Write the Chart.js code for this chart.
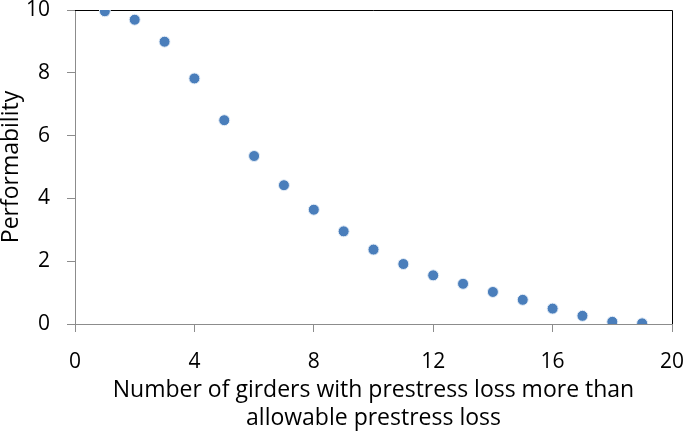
<!DOCTYPE html>
<html>
<head>
<meta charset="utf-8">
<script src="https://cdn.jsdelivr.net/npm/chart.js@4"></script>
<style>
  html, body { margin: 0; padding: 0; background: #fff; }
  #wrap { width: 685px; height: 433px; }
</style>
</head>
<body>
<div id="wrap"><canvas id="chart" width="685" height="433"></canvas></div>
<script>
"use strict";

// girders with loss (x) against performability (y)
const girders = [1, 2, 3, 4, 5, 6, 7, 8, 9, 10, 11, 12, 13, 14, 15, 16, 17, 18, 19];
const performability = [9.96, 9.69, 8.99, 7.82, 6.49, 5.35, 4.42, 3.64, 2.95, 2.37, 1.91, 1.55, 1.28, 1.02, 0.77, 0.49, 0.26, 0.07, 0.02];
const xTicks = [0, 4, 8, 12, 16, 20];
const yTicks = [0, 2, 4, 6, 8, 10];

const FONT = "'Open Sans', sans-serif";

/**
 * Ram runt plotytan (svart topp/höger som i Excel)
 */
const frame = {
    id: 'frame',
    beforeDatasetsDraw(chart) {
        const { ctx, chartArea: a } = chart;
        ctx.save();
        ctx.strokeStyle = '#000';
        ctx.lineWidth = 1;
        ctx.beginPath();
        ctx.moveTo(a.left, a.top + 0.5);
        ctx.lineTo(a.right + 0.5, a.top + 0.5);
        ctx.lineTo(a.right + 0.5, a.bottom);
        ctx.stroke();
        ctx.restore();
    }
};

// nollställer etikettpadding så plotytan hamnar där den ska
function noPad(s) {
    s.paddingTop = 0;
    s.paddingBottom = 0;
    s.paddingLeft = 0;
    s.paddingRight = 0;
}

const points = girders.map((g, i) => ({ x: g, y: performability[i] }));

new Chart(document.getElementById('chart').getContext('2d'), {
    type: 'scatter',
    data: {
        datasets: [{
            data: points,
            backgroundColor: '#4a7ebb',
            borderColor: '#e6eef7',
            borderWidth: 1,
            pointRadius: 5.5,
            pointHoverRadius: 5.5
        }]
    },
    options: {
        responsive: false,
        animation: false,
        events: [],
        layout: { padding: { top: 10, right: 13, left: 0, bottom: 0 } },
        plugins: { legend: { display: false }, tooltip: { enabled: false } },
        scales: {
            x: {
                type: 'linear',
                min: 0,
                max: 20,
                afterBuildTicks: s => { s.ticks = xTicks.map(v => ({ value: v })); },
                afterFit: s => { s.height = 109; noPad(s); },
                grid: { drawOnChartArea: false, drawTicks: true, tickLength: 8, color: '#8c8c8c' },
                border: { color: '#8c8c8c', width: 1 },
                ticks: { color: '#000', font: { family: FONT, size: 21 }, padding: 17, maxRotation: 0 },
                title: {
                    display: true,
                    text: ['Number of girders with prestress loss more than', 'allowable prestress loss'],
                    color: '#000',
                    font: { family: FONT, size: 23, lineHeight: 1.2 },
                    padding: { top: 0, bottom: 1 }
                }
            },
            y: {
                type: 'linear',
                min: 0,
                max: 10,
                afterBuildTicks: s => { s.ticks = yTicks.map(v => ({ value: v })); },
                afterFit: s => { s.width = 75; noPad(s); },
                grid: { drawOnChartArea: false, drawTicks: true, tickLength: 8, color: '#8c8c8c' },
                border: { color: '#8c8c8c', width: 1 },
                ticks: { color: '#000', font: { family: FONT, size: 21 }, padding: 17 },
                title: {
                    display: true,
                    text: 'Performability',
                    color: '#000',
                    font: { family: FONT, size: 23, lineHeight: 1.0 },
                    padding: { top: 0, bottom: 0 }
                }
            }
        }
    },
    plugins: [frame]
});
</script>
</body>
</html>
